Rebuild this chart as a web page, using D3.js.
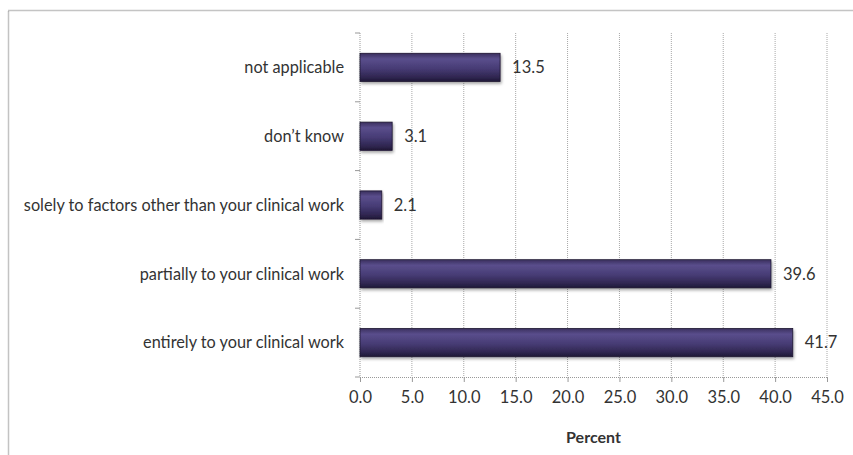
<!DOCTYPE html>
<html>
<head>
<meta charset="utf-8">
<script src="https://cdnjs.cloudflare.com/ajax/libs/d3/7.8.5/d3.min.js"></script>
<style>
  body { margin: 0; background: #fff; }
  svg { display: block; }
</style>
</head>
<body>
<div id="chart"></div>
<script>
// data, bottom to top as in the picture
var categories = [
  "entirely to your clinical work",
  "partially to your clinical work",
  "solely to factors other than your clinical work",
  "don\u2019t know",
  "not applicable"
];
var values = [41.7, 39.6, 2.1, 3.1, 13.5];
var xTicks = [0, 5, 10, 15, 20, 25, 30, 35, 40, 45];
var xLabel = "Percent";

var width = 853, height = 455;
var margin = {left: 360, right: 26, top: 33, bottom: 78};
var font = "Lato, 'Open Sans', sans-serif";

var svg = d3.select("#chart").append("svg")
    .attr("width", width)
    .attr("height", height);

// bevel-ish gradient + shadow for bars
var defs = svg.append("defs");
var grad = defs.append("linearGradient")
    .attr("id", "barGrad")
    .attr("x1", 0).attr("y1", 0).attr("x2", 0).attr("y2", 1);
grad.append("stop").attr("offset", "0%").attr("stop-color", "#3a2f5e");
grad.append("stop").attr("offset", "20%").attr("stop-color", "#5a4e8c");
grad.append("stop").attr("offset", "55%").attr("stop-color", "#463b74");
grad.append("stop").attr("offset", "85%").attr("stop-color", "#2f2650");
grad.append("stop").attr("offset", "100%").attr("stop-color", "#1f1836");

var shadow = defs.append("filter").attr("id", "shadow")
    .attr("x", "-5%").attr("y", "-20%").attr("width", "115%").attr("height", "160%");
shadow.append("feDropShadow")
    .attr("dx", 1).attr("dy", 2).attr("stdDeviation", 1.5)
    .attr("flood-color", "#000").attr("flood-opacity", 0.35);

// outer frame (cropped at right/bottom in the original)
svg.append("rect")
    .attr("x", 8.5).attr("y", 10.5)
    .attr("width", width + 20).attr("height", height + 20)
    .attr("fill", "none")
    .attr("stroke", "#888")
    .attr("stroke-width", 1.5)
    .attr("stroke-dasharray", "1,1");

var xScale = d3.scaleLinear()
    .domain([0, 45])
    .range([margin.left, width - margin.right]);

var yScale = d3.scaleBand()
    .domain(categories.slice().reverse())
    .range([margin.top, height - margin.bottom])
    .paddingInner(0.59)
    .paddingOuter(0.295);

var yTop = margin.top, yBottom = height - margin.bottom;

// vertical gridlines
svg.append("g").selectAll("line")
    .data(xTicks.slice(1))
    .enter().append("line")
    .attr("x1", function(d) { return xScale(d); })
    .attr("x2", function(d) { return xScale(d); })
    .attr("y1", yTop)
    .attr("y2", yBottom)
    .attr("stroke", "#a8a8a8")
    .attr("stroke-dasharray", "1,1");

// y axis line + ticks at band boundaries
var step = (yBottom - yTop) / categories.length;
var yAxisG = svg.append("g");
yAxisG.append("line")
    .attr("x1", xScale(0)).attr("x2", xScale(0))
    .attr("y1", yTop).attr("y2", yBottom)
    .attr("stroke", "#999").attr("stroke-dasharray", "1,1");
yAxisG.selectAll(".ytick")
    .data(d3.range(categories.length + 1))
    .enter().append("line")
    .attr("x1", xScale(0) - 5).attr("x2", xScale(0))
    .attr("y1", function(i) { return yTop + i * step; })
    .attr("y2", function(i) { return yTop + i * step; })
    .attr("stroke", "#999");

// x axis
var xAxis = d3.axisBottom(xScale)
    .tickValues(xTicks)
    .tickSize(5)
    .tickFormat(d3.format(".1f"));
var xAxisG = svg.append("g")
    .attr("transform", "translate(0," + yBottom + ")")
    .call(xAxis);
xAxisG.select(".domain").attr("stroke", "#999").attr("stroke-dasharray", "1,1");
xAxisG.selectAll(".tick line").attr("stroke", "#999");
xAxisG.selectAll("text")
    .attr("dy", "1.1em")
    .style("font-family", font)
    .style("font-size", "16.5px")
    .style("fill", "#333");

// category labels
svg.append("g").selectAll("text")
    .data(categories)
    .enter().append("text")
    .attr("x", margin.left - 16)
    .attr("y", function(d) { return yScale(d) + yScale.bandwidth() / 2; })
    .attr("dy", "0.35em")
    .attr("text-anchor", "end")
    .style("font-family", font)
    .style("font-size", "16.3px")
    .style("fill", "#333")
    .text(function(d) { return d; });

// bars
svg.append("g").selectAll("rect")
    .data(values)
    .enter().append("rect")
    .attr("x", xScale(0))
    .attr("y", function(d, i) { return yScale(categories[i]); })
    .attr("height", yScale.bandwidth())
    .attr("width", function(d) { return xScale(d) - xScale(0); })
    .attr("fill", "url(#barGrad)")
    .attr("stroke", "#1c1530")
    .attr("stroke-width", 0.8)
    .attr("filter", "url(#shadow)");

// value labels
svg.append("g").selectAll("text")
    .data(values)
    .enter().append("text")
    .attr("x", function(d) { return xScale(d) + 12; })
    .attr("y", function(d, i) { return yScale(categories[i]) + yScale.bandwidth() / 2; })
    .attr("dy", "0.35em")
    .style("font-family", font)
    .style("font-size", "16.5px")
    .style("fill", "#333")
    .text(function(d) { return d.toFixed(1); });

// axis title
svg.append("text")
    .attr("x", (xScale(0) + xScale(45)) / 2)
    .attr("y", 443)
    .attr("text-anchor", "middle")
    .style("font-family", font)
    .style("font-size", "16px")
    .style("font-weight", "bold")
    .style("fill", "#333")
    .text(xLabel);
</script>
</body>
</html>
